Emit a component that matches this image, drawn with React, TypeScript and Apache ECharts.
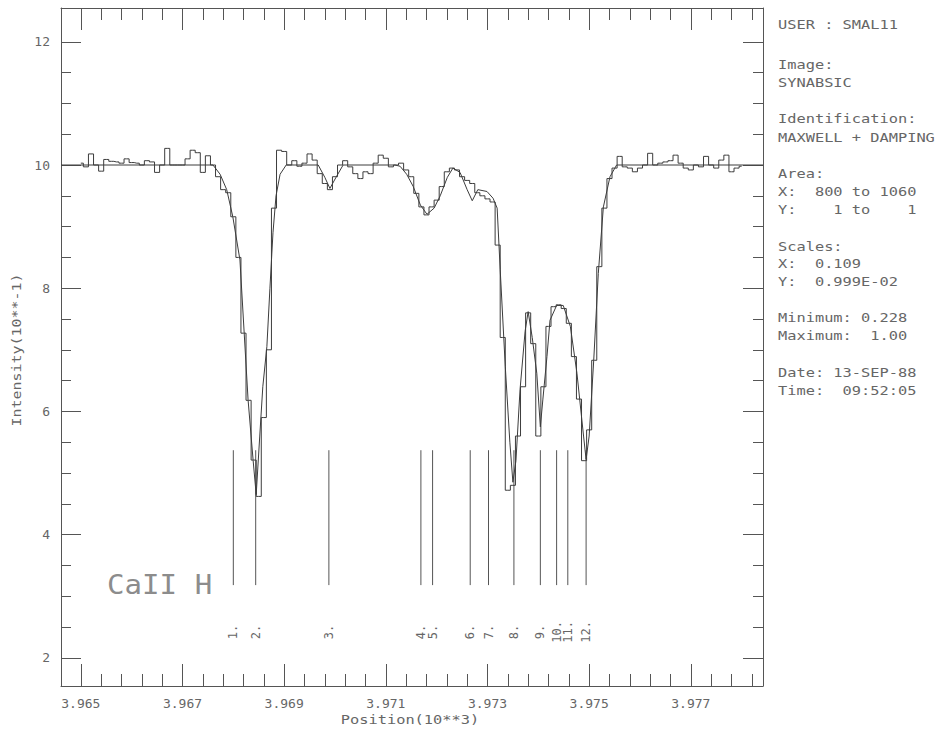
import React, { useEffect, useRef } from 'react';
import * as echarts from 'echarts';

// ---------- axis ranges and ticks ----------
const xMin = 3.96461;
const xMax = 3.97842;
const yMin = 1.542;
const yMax = 12.549;
const xMajorTicks = [3.965, 3.967, 3.969, 3.971, 3.973, 3.975, 3.977];
const yMajorTicks = [2, 4, 6, 8, 10, 12];

// ---------- observed spectrum (step histogram) ----------
const obsStart = 3.965;
const obsStep = 0.0001;
const observed = [
  10.03, 9.97, 10.18, 10.0, 9.9, 10.09, 10.06, 10.05, 10.03, 10.1,
  10.04, 10.03, 10.0, 10.07, 10.05, 9.88, 10.0, 10.27, 10.0, 10.0,
  10.0, 10.1, 10.24, 10.2, 9.88, 10.15, 10.0, 9.81, 9.6, 9.55,
  9.16, 8.5, 7.27, 6.18, 5.21, 4.62, 5.9, 7.0, 9.3, 10.24,
  10.22, 10.0, 10.07, 9.98, 10.03, 10.18, 10.08, 9.86, 9.7, 9.6,
  9.81, 10.0, 10.07, 9.97, 9.86, 9.78, 9.89, 9.86, 10.03, 10.16,
  10.11, 9.97, 10.0, 10.03, 9.92, 9.81, 9.54, 9.32, 9.19, 9.32,
  9.43, 9.65, 9.89, 9.95, 9.92, 9.81, 9.75, 9.7, 9.55, 9.5,
  9.45, 9.4, 8.7, 7.2, 4.72, 4.8, 5.6, 6.4, 7.6, 7.1,
  5.6, 6.4, 7.38, 7.7, 7.73, 7.67, 7.43, 6.89, 6.2, 5.2,
  5.7, 6.83, 8.35, 9.3, 9.78, 9.95, 10.14, 9.97, 9.95, 9.89,
  9.95, 10.0, 10.19, 10.0, 10.03, 10.05, 10.07, 10.16, 10.03, 9.95,
  9.92, 10.0, 9.97, 10.14, 10.0, 9.95, 10.08, 10.16, 9.89, 9.95, 9.98,
];

// ---------- fitted profile (Maxwell + damping) ----------
const fitLambda = [
  3.96461, 3.9676, 3.96774, 3.96787, 3.96799, 3.96813, 3.96829, 3.96839, 3.96845,
  3.96852, 3.96858, 3.96866, 3.96872, 3.96878, 3.96884, 3.96892, 3.96904,
  3.96967, 3.9698, 3.9699, 3.97002, 3.97016,
  3.97118, 3.97128, 3.97141, 3.97154, 3.97168, 3.97181, 3.97195, 3.97207, 3.97221,
  3.97232, 3.97246, 3.9726, 3.9727, 3.97281, 3.97299, 3.97311, 3.97319,
  3.97325, 3.97335, 3.97344, 3.9735, 3.97356, 3.97364, 3.97374, 3.9738,
  3.97388, 3.97397, 3.97404, 3.97409, 3.97417, 3.97423, 3.97436, 3.97449,
  3.97463, 3.97476, 3.97489, 3.97494, 3.975, 3.97509, 3.97518, 3.97528,
  3.97541, 3.97554, 3.97842,
];
const fitValue = [
  10.0, 10.0, 9.85, 9.6, 9.16, 8.46, 6.19, 5.2, 4.65,
  5.6, 6.4, 7.05, 8.0, 8.9, 9.5, 9.85, 10.0,
  10.0, 9.8, 9.62, 9.8, 10.0,
  10.0, 9.98, 9.85, 9.65, 9.35, 9.2, 9.3, 9.5, 9.8,
  9.95, 9.88, 9.6, 9.42, 9.6, 9.57, 9.46, 9.3,
  8.3, 6.73, 5.5, 4.85, 5.2, 6.35, 7.3, 7.62,
  7.2, 6.62, 5.75, 6.2, 6.89, 7.48, 7.72, 7.72,
  7.38, 6.62, 5.6, 5.22, 5.6, 6.83, 8.24, 9.32,
  9.81, 10.0, 10.0,
];

// ---------- identified line positions ----------
const lineLambdas = [
  3.968, 3.96844, 3.96988, 3.97169, 3.97192, 3.97266,
  3.97302, 3.97352, 3.97404, 3.97436, 3.97458, 3.97494,
];
const lineLabels = ['1.', '2.', '3.', '4.', '5.', '6.', '7.', '8.', '9.', '10.', '11.', '12.'];
const markTop = 5.37;
const markBottom = 3.18;
const markLabelY = 2.42;

// ---------- texts ----------
const panelLines = [
  'USER : SMAL11',
  'Image:',
  'SYNABSIC',
  'Identification:',
  'MAXWELL + DAMPING',
  'Area:',
  'X:  800 to 1060',
  'Y:    1 to    1',
  'Scales:',
  'X:  0.109',
  'Y:  0.999E-02',
  'Minimum: 0.228',
  'Maximum:  1.00',
  'Date: 13-SEP-88',
  'Time:  09:52:05',
];
const panelY = [24, 64, 82, 118, 137, 173, 191, 209, 246, 263, 281, 317, 335, 372, 390];
const yTitle = 'Intensity(10**-1)';
const xTitle = 'Position(10**3)';
const lineName = 'CaII H';

const FONT = '"DejaVu Sans Mono", monospace';
const INK = '#666';
const AXIS = '#555';
const LINE = '#3c3c3c';

function buildMinorX(): number[] {
  const out: number[] = [];
  for (let k = 0; k <= 33; k++) out.push(Math.round((3.965 + k * 0.0004) * 1e5) / 1e5);
  return out;
}
function buildMinorY(): number[] {
  const out: number[] = [];
  for (let k = 0; k <= 20; k++) out.push(2 + k * 0.5);
  return out;
}

export default function App() {
  const ref = useRef<HTMLDivElement>(null);

  useEffect(() => {
    if (!ref.current) return;
    const chart = echarts.init(ref.current, undefined, { renderer: 'svg' });
    const minorX = buildMinorX();
    const minorY = buildMinorY();

    const obsData = observed.map((v, i) => [obsStart + i * obsStep, v]);
    const fitData = fitLambda.map((l, i) => [l, fitValue[i]]);

    const baseX = {
      type: 'value' as const,
      min: xMin,
      max: xMax,
      splitLine: { show: false },
    };
    const baseY = {
      type: 'value' as const,
      min: yMin,
      max: yMax,
      splitLine: { show: false },
    };
    const lineStyle = { color: AXIS, width: 1 };

    const graphics: any[] = [];
    panelLines.forEach((t, i) => {
      graphics.push({
        type: 'text',
        x: 778,
        y: panelY[i],
        scaleX: 1.18,
        style: {
          text: t,
          font: `13px ${FONT}`,
          fill: INK,
          textVerticalAlign: 'middle',
          verticalAlign: 'middle',
        },
      });
    });
    graphics.push({
      type: 'text',
      x: 16,
      y: 350,
      rotation: Math.PI / 2,
      scaleX: 1.15,
      style: {
        text: yTitle,
        font: `13px ${FONT}`,
        fill: INK,
        textAlign: 'center',
        align: 'center',
        textVerticalAlign: 'middle',
        verticalAlign: 'middle',
      },
    });
    graphics.push({
      type: 'text',
      x: 410,
      y: 719,
      scaleX: 1.18,
      style: {
        text: xTitle,
        font: `13px ${FONT}`,
        fill: INK,
        textAlign: 'center',
        align: 'center',
        textVerticalAlign: 'middle',
        verticalAlign: 'middle',
      },
    });
    graphics.push({
      type: 'text',
      x: 107,
      y: 585,
      scaleX: 1.12,
      style: {
        text: lineName,
        font: `26px ${FONT}`,
        fill: '#8c8c8c',
        textVerticalAlign: 'middle',
        verticalAlign: 'middle',
      },
    });

    chart.setOption({
      animation: false,
      backgroundColor: '#fff',
      grid: { left: 61, right: 174, top: 8, bottom: 46, containLabel: false },
      xAxis: [
        {
          ...baseX,
          position: 'bottom',
          axisLine: { show: true, onZero: false, lineStyle },
          axisTick: { show: true, inside: true, length: 22, customValues: xMajorTicks, lineStyle },
          axisLabel: {
            show: true,
            customValues: xMajorTicks,
            margin: 11,
            color: INK,
            fontFamily: FONT,
            fontSize: 13,
            formatter: (v: number) => v.toFixed(3),
          },
        },
        {
          ...baseX,
          position: 'bottom',
          axisLine: { show: false, onZero: false },
          axisTick: { show: true, inside: true, length: 12, customValues: minorX, lineStyle },
          axisLabel: { show: false },
        },
        {
          ...baseX,
          position: 'top',
          axisLine: { show: true, onZero: false, lineStyle },
          axisTick: { show: true, inside: true, length: 22, customValues: xMajorTicks, lineStyle },
          axisLabel: { show: false },
        },
        {
          ...baseX,
          position: 'top',
          axisLine: { show: false, onZero: false },
          axisTick: { show: true, inside: true, length: 12, customValues: minorX, lineStyle },
          axisLabel: { show: false },
        },
      ],
      yAxis: [
        {
          ...baseY,
          position: 'left',
          axisLine: { show: true, onZero: false, lineStyle },
          axisTick: { show: true, inside: true, length: 20, customValues: yMajorTicks, lineStyle },
          axisLabel: {
            show: true,
            customValues: yMajorTicks,
            margin: 11,
            color: INK,
            fontFamily: FONT,
            fontSize: 13,
            formatter: (v: number) => String(v),
          },
        },
        {
          ...baseY,
          position: 'left',
          axisLine: { show: false, onZero: false },
          axisTick: { show: true, inside: true, length: 10, customValues: minorY, lineStyle },
          axisLabel: { show: false },
        },
        {
          ...baseY,
          position: 'right',
          axisLine: { show: true, onZero: false, lineStyle },
          axisTick: { show: true, inside: true, length: 20, customValues: yMajorTicks, lineStyle },
          axisLabel: { show: false },
        },
        {
          ...baseY,
          position: 'right',
          axisLine: { show: false, onZero: false },
          axisTick: { show: true, inside: true, length: 10, customValues: minorY, lineStyle },
          axisLabel: { show: false },
        },
      ],
      series: [
        {
          name: 'observed',
          type: 'line',
          xAxisIndex: 0,
          yAxisIndex: 0,
          step: 'middle',
          symbol: 'none',
          data: obsData,
          lineStyle: { color: LINE, width: 1 },
          silent: true,
        },
        {
          name: 'fit',
          type: 'line',
          xAxisIndex: 0,
          yAxisIndex: 0,
          symbol: 'none',
          data: fitData,
          lineStyle: { color: LINE, width: 1 },
          silent: true,
        },
        {
          name: 'lines',
          type: 'custom',
          xAxisIndex: 0,
          yAxisIndex: 0,
          data: lineLambdas.map((l) => [l]),
          silent: true,
          renderItem: (params: any, api: any) => {
            const lam = api.value(0);
            const top = api.coord([lam, markTop]);
            const bot = api.coord([lam, markBottom]);
            const lab = api.coord([lam, markLabelY]);
            return {
              type: 'group',
              children: [
                {
                  type: 'line',
                  shape: { x1: top[0], y1: top[1], x2: bot[0], y2: bot[1] },
                  style: { stroke: AXIS, lineWidth: 1 },
                },
                {
                  type: 'text',
                  x: lab[0],
                  y: lab[1],
                  rotation: Math.PI / 2,
                  style: {
                    text: lineLabels[params.dataIndex],
                    font: `12px ${FONT}`,
                    fill: INK,
                    textAlign: 'center',
                    align: 'center',
                    textVerticalAlign: 'middle',
                    verticalAlign: 'middle',
                  },
                },
              ],
            };
          },
        },
      ],
      graphic: graphics,
    });

    return () => {
      chart.dispose();
    };
  }, []);

  return (
    <div
      ref={ref}
      style={{ position: 'fixed', left: 0, top: 0, width: 937, height: 732, background: '#fff' }}
    />
  );
}
